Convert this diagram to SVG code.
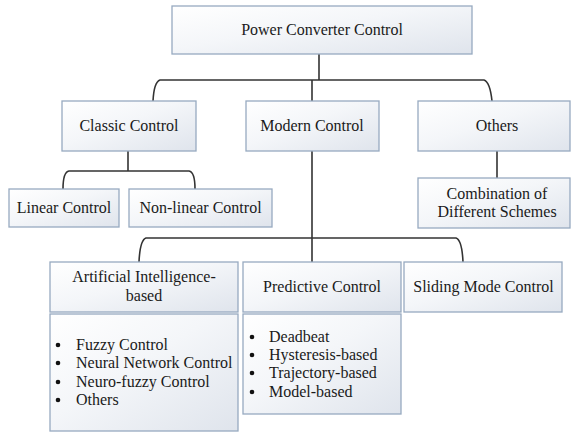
<svg xmlns="http://www.w3.org/2000/svg" width="571" height="433" viewBox="0 0 571 433">
<defs>
<linearGradient id="g" x1="0" y1="0" x2="1" y2="1">
<stop offset="0" stop-color="#ffffff"/>
<stop offset="0.45" stop-color="#f4f6f9"/>
<stop offset="1" stop-color="#dfe4ec"/>
</linearGradient>
<style>
.box{fill:url(#g);stroke:#97aac0;stroke-width:1.3}
text{font-family:"Liberation Serif","Times New Roman",Times,"Noto Serif","DejaVu Serif",serif;font-size:16px;fill:#1a1a1a}
.t{text-anchor:middle}
.c{fill:none;stroke:#333;stroke-width:1.6}
.b{fill:#111}
</style>
</defs>
<rect width="571" height="433" fill="#fff"/>
<g id="connectors">
<path class="c" d="M319 54V80"/>
<path class="c" d="M153 101Q154 82 160 80H484Q490 82 492 101"/>
<path class="c" d="M312 80V101"/>
<path class="c" d="M128 151V171"/>
<path class="c" d="M63 189Q63 172 69 171H189Q195 172 195 189"/>
<path class="c" d="M312 151V262"/>
<path class="c" d="M139 262Q140 240 146 238H456Q462 240 463 262"/>
<path class="c" d="M497 151V178"/>
</g>
<g id="n-root"><rect class="box" x="172" y="6" width="300" height="48"/><text class="t" x="322" y="35" font-family="Liberation Serif, serif">Power Converter Control</text></g>
<g id="n-classic"><rect class="box" x="62" y="101" width="134" height="50"/><text class="t" x="129" y="131">Classic Control</text></g>
<g id="n-modern"><rect class="box" x="246" y="101" width="133" height="50"/><text class="t" x="312" y="131">Modern Control</text></g>
<g id="n-others"><rect class="box" x="418" y="101" width="152" height="50"/><text class="t" x="497" y="131">Others</text></g>
<g id="n-linear"><rect class="box" x="9" y="189" width="110" height="38"/><text class="t" x="64" y="213">Linear Control</text></g>
<g id="n-nonlinear"><rect class="box" x="129" y="189" width="143" height="38"/><text class="t" x="200.5" y="213">Non-linear Control</text></g>
<g id="n-combination"><rect class="box" x="418" y="178" width="152" height="50"/><text class="t" x="497" y="199">Combination of</text><text class="t" x="497" y="217">Different Schemes</text></g>
<g id="n-ai"><rect class="box" x="50" y="262" width="188" height="50"/><text class="t" x="144" y="282">Artificial Intelligence-</text><text class="t" x="144" y="301">based</text></g>
<g id="n-predictive"><rect class="box" x="243" y="262" width="158" height="50"/><text class="t" x="322" y="292">Predictive Control</text></g>
<g id="n-sliding"><rect class="box" x="404" y="262" width="158" height="50"/><text class="t" x="483.5" y="292">Sliding Mode Control</text></g>
<g id="n-ai-list"><rect class="box" x="50" y="314" width="188" height="117"/>
<circle class="b" cx="58" cy="345" r="2.3"/><text x="76" y="350">Fuzzy Control</text>
<circle class="b" cx="58" cy="363" r="2.3"/><text x="76" y="368">Neural Network Control</text>
<circle class="b" cx="58" cy="382" r="2.3"/><text x="76" y="387">Neuro-fuzzy Control</text>
<circle class="b" cx="58" cy="400" r="2.3"/><text x="76" y="405">Others</text>
</g>
<g id="n-pred-list"><rect class="box" x="243" y="314" width="158" height="100"/>
<circle class="b" cx="252" cy="337" r="2.3"/><text x="269" y="342">Deadbeat</text>
<circle class="b" cx="252" cy="355" r="2.3"/><text x="269" y="360">Hysteresis-based</text>
<circle class="b" cx="252" cy="373" r="2.3"/><text x="269" y="378">Trajectory-based</text>
<circle class="b" cx="252" cy="392" r="2.3"/><text x="269" y="397">Model-based</text>
</g>
</svg>
